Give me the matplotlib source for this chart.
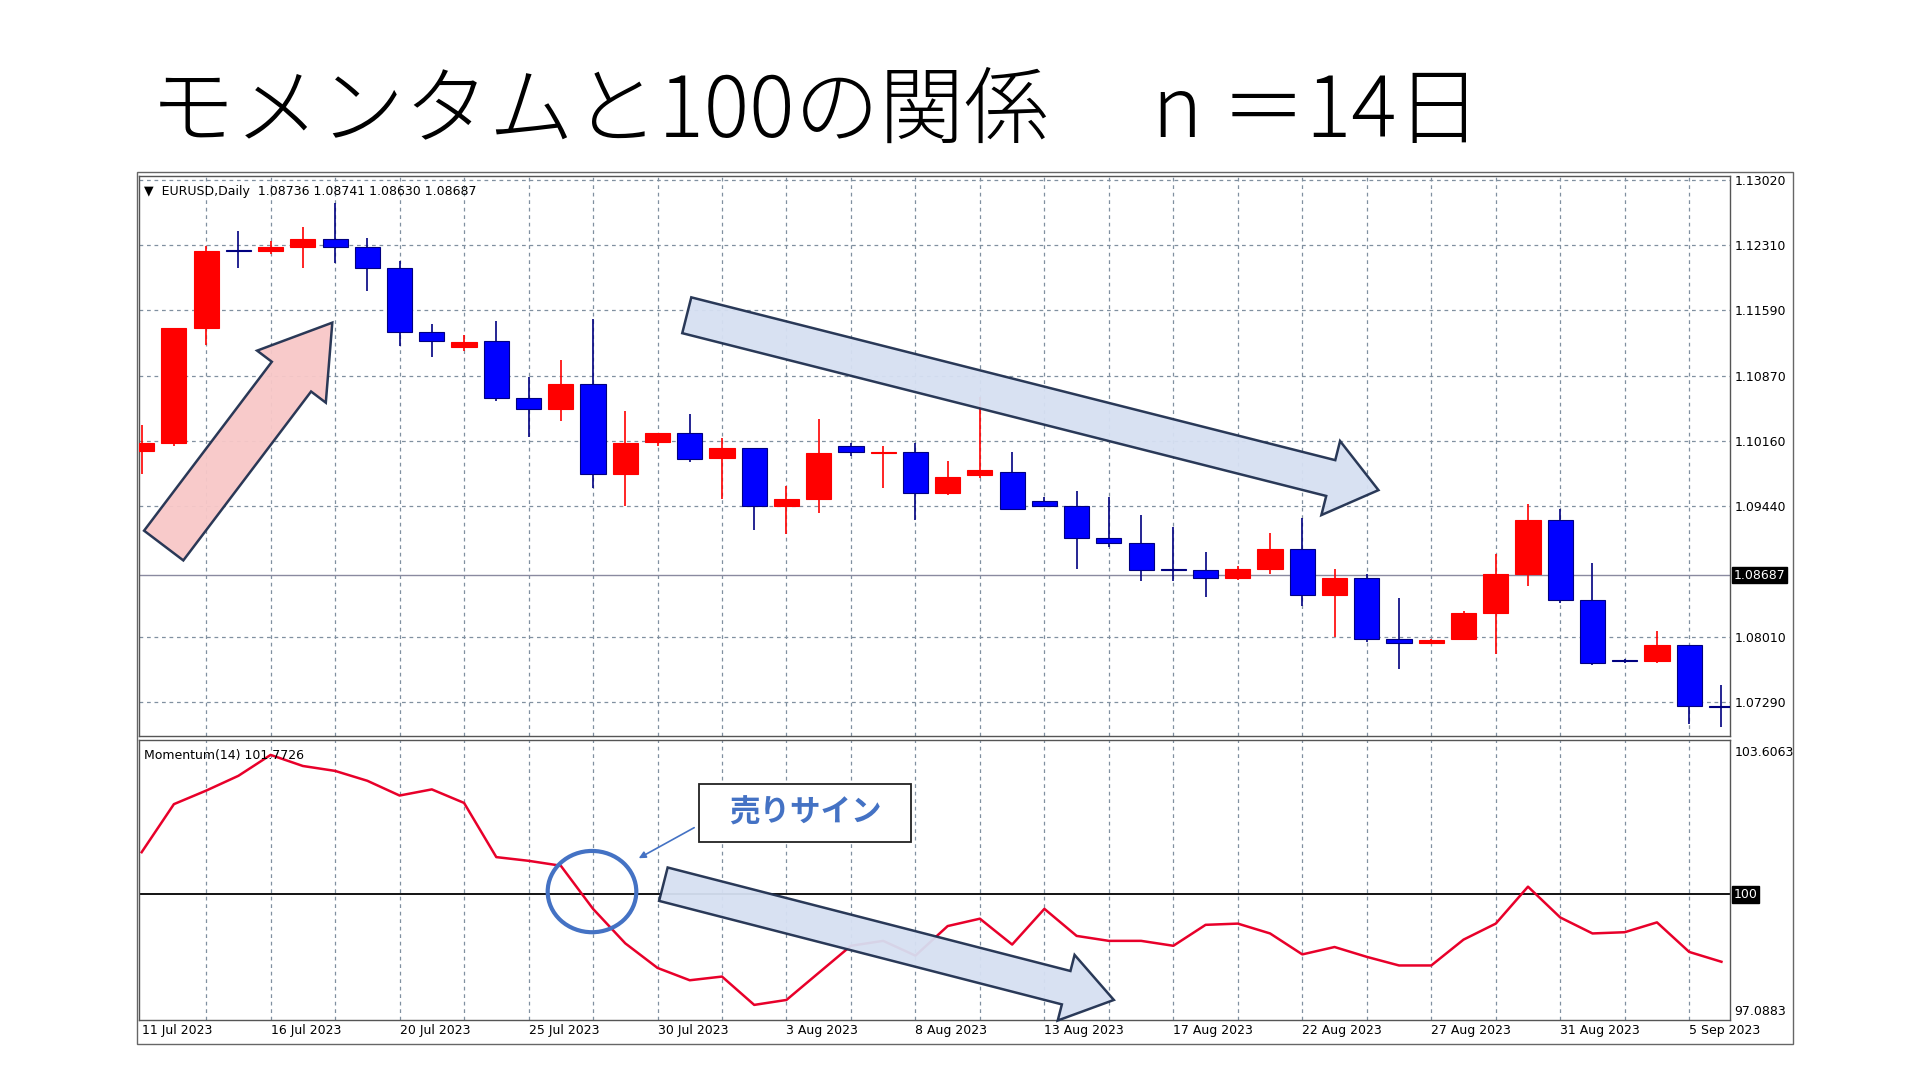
import matplotlib
matplotlib.use("Agg")
import matplotlib.pyplot as plt
from matplotlib.patches import FancyArrow, Ellipse, Rectangle
import numpy as np

opens = [1.1005,1.10131,1.1140,1.1225,1.12237,1.12278,1.12372,1.12278,1.12048,1.11346,1.11184,1.11252,1.1063,1.10509,1.10779,1.09794,1.10145,1.10239,1.0997,1.10077,1.09443,1.09524,1.10104,1.10023,1.10037,1.09591,1.0978,1.09821,1.09497,1.09443,1.09092,1.09038,1.08754,1.0874,1.08659,1.08754,1.0897,1.08471,1.08659,1.07985,1.07944,1.07985,1.08268,1.087,1.09294,1.08417,1.07755,1.07741,1.07917,1.07255]
closes = [1.10131,1.1140,1.12237,1.12237,1.12278,1.12372,1.12278,1.12048,1.11346,1.11252,1.11238,1.1063,1.10509,1.10779,1.09794,1.10131,1.10239,1.09956,1.10077,1.09443,1.09524,1.10023,1.10037,1.10037,1.09591,1.09767,1.09834,1.09416,1.09443,1.09092,1.09038,1.0874,1.0874,1.08659,1.08754,1.0897,1.08471,1.08659,1.07985,1.07944,1.07971,1.08268,1.087,1.09294,1.08417,1.07728,1.07741,1.07917,1.07255,1.07242]
highs = [1.10334,1.1140,1.12291,1.12453,1.12345,1.12507,1.12764,1.12386,1.12129,1.11441,1.11319,1.11468,1.1086,1.11049,1.11495,1.10482,1.10239,1.10455,1.10185,1.10077,1.09659,1.10401,1.10131,1.10104,1.10131,1.09942,1.10644,1.10037,1.09537,1.09605,1.09537,1.09348,1.09213,1.08943,1.08781,1.09146,1.09308,1.08754,1.087,1.0843,1.07985,1.08295,1.08916,1.0947,1.09416,1.08822,1.07769,1.08079,1.07917,1.07485]
lows = [1.09794,1.10104,1.11211,1.12048,1.1221,1.12048,1.12102,1.11805,1.11198,1.11076,1.11144,1.1059,1.10199,1.10374,1.09645,1.09443,1.10104,1.09929,1.09524,1.09186,1.09132,1.09362,1.09996,1.09645,1.09294,1.09564,1.09753,1.09416,1.09443,1.08754,1.08997,1.08619,1.08619,1.08444,1.08633,1.087,1.08349,1.08012,1.07958,1.07661,1.0793,1.07971,1.07823,1.08565,1.08376,1.07701,1.07728,1.07728,1.07053,1.07026]
momentum = [101.061,102.272,102.613,102.986,103.513,103.234,103.110,102.861,102.489,102.644,102.303,100.937,100.844,100.720,99.633,98.764,98.144,97.833,97.926,97.212,97.337,98.020,98.702,98.826,98.454,99.199,99.385,98.733,99.633,98.951,98.826,98.826,98.702,99.230,99.261,99.013,98.485,98.671,98.423,98.206,98.206,98.857,99.261,100.192,99.416,99.013,99.044,99.292,98.547,98.299]
date_labels = ["11 Jul 2023","16 Jul 2023","20 Jul 2023","25 Jul 2023","30 Jul 2023","3 Aug 2023","8 Aug 2023","13 Aug 2023","17 Aug 2023","22 Aug 2023","27 Aug 2023","31 Aug 2023","5 Sep 2023"]
price_ticks = [1.13020,1.12310,1.11590,1.10870,1.10160,1.09440,1.08010,1.07290]
mom_ticks = [103.6063,97.0883]
last_price = 1.08687
title = "モメンタムと100の関係　 n ＝14日"

W, H = 1560, 877
fig = plt.figure(figsize=(19.2, 10.8), dpi=100)
def rect(l, t, r, b):
    return [l / W, 1 - b / H, (r - l) / W, (b - t) / H]

ax = fig.add_axes(rect(113, 143, 1406, 598))
axm = fig.add_axes(rect(113, 601, 1406, 828))
n = len(opens)
x = np.arange(n)
for a in (ax, axm):
    a.set_xlim(-0.08, 49.28)
    for i in range(2, n, 2):
        a.axvline(i, color="#8090a0", lw=0.9, ls=(0, (3, 3)), zorder=0)
    a.yaxis.tick_right()
    a.tick_params(axis="both", length=0, labelsize=9, pad=3)
    for s in a.spines.values():
        s.set_color("#555555"); s.set_linewidth(1.0)

ax.set_ylim(1.06918, 1.13060)
ax.set_yticks(price_ticks)
ax.set_yticklabels([f"{v:.5f}" for v in price_ticks], fontsize=9)
for v in price_ticks:
    ax.axhline(v, color="#8090a0", lw=0.9, ls=(0, (3, 3)), zorder=0)
ax.set_xticks([])
bw = 0.78
for i in range(n):
    up = closes[i] >= opens[i]
    col = "#ff0000" if up else "#0000ff"
    wc = "#ff0000" if up else "#000080"
    ax.vlines(x[i], lows[i], highs[i], color=wc, lw=1.2, zorder=2)
    lo, hi = min(opens[i], closes[i]), max(opens[i], closes[i])
    h = max(hi - lo, 0.00004)
    ax.add_patch(Rectangle((x[i] - bw / 2, lo), bw, h, facecolor=col,
                           edgecolor=wc, lw=0.8, zorder=3))
ax.axhline(last_price, color="#8a8aa0", lw=1.0, zorder=1)
ax.text(1.002, last_price, f"{last_price:.5f}", transform=ax.get_yaxis_transform(),
        va="center", ha="left", fontsize=9, color="white",
        bbox=dict(boxstyle="square,pad=0.15", fc="black", ec="black"))
ax.text(0.003, 0.985, "▼  EURUSD,Daily  1.08736 1.08741 1.08630 1.08687",
        transform=ax.transAxes, va="top", ha="left", fontsize=9)

axm.set_ylim(96.84, 103.886)
axm.set_yticks(mom_ticks)
axm.set_yticklabels(["103.6063", "97.0883"], fontsize=9)
axm.axhline(100, color="black", lw=1.3, zorder=1)
axm.text(1.002, 100, "100", transform=axm.get_yaxis_transform(), va="center",
         ha="left", fontsize=9, color="white",
         bbox=dict(boxstyle="square,pad=0.15", fc="black", ec="black"))
axm.plot(x, momentum, color="#e8002a", lw=1.8, zorder=2)
axm.set_xticks(np.arange(0, n, 4))
axm.set_xticklabels(date_labels, fontsize=9, ha="left")
axm.text(0.003, 0.97, "Momentum(14) 101.7726", transform=axm.transAxes,
         va="top", ha="left", fontsize=9)

fig.text(122 / W, 1 - 92 / H, title, fontsize=61, va="center", ha="left",
         family="Noto Sans CJK JP", fontweight="light")

ov = fig.add_axes([0, 0, 1, 1], zorder=10)
ov.set_xlim(0, W); ov.set_ylim(H, 0); ov.axis("off")
ov.add_patch(Rectangle((111, 140), 1346, 708, fill=False, ec="#666666", lw=1.0))
def arrow(x0, y0, x1, y1, w, hw, hl, fc):
    ov.add_patch(FancyArrow(x0, y0, x1 - x0, y1 - y0, width=w, head_width=hw,
                            head_length=hl, length_includes_head=True,
                            fc=fc, ec="#1f2f4f", lw=1.8, alpha=0.95))
arrow(133, 443, 270, 262, 40, 70, 55, "#f8c8c8")
arrow(558, 256, 1120, 398, 30, 62, 40, "#d6e0f2")
arrow(539, 718, 905, 812, 28, 55, 40, "#d6e0f2")
ov.add_patch(Ellipse((481, 724), 72, 66, fill=False, ec="#4472c4", lw=3))
ov.add_patch(Rectangle((568, 637), 172, 47, fc="white", ec="#222222", lw=1.3))
ov.text(654, 660, "売りサイン", fontsize=22, color="#4472c4", fontweight="bold",
        ha="center", va="center", family="Noto Sans CJK JP")
ov.annotate("", xy=(517, 698), xytext=(566, 671),
            arrowprops=dict(arrowstyle="-|>", color="#4472c4", lw=1.2))

fig.savefig("out.png", dpi=100)
